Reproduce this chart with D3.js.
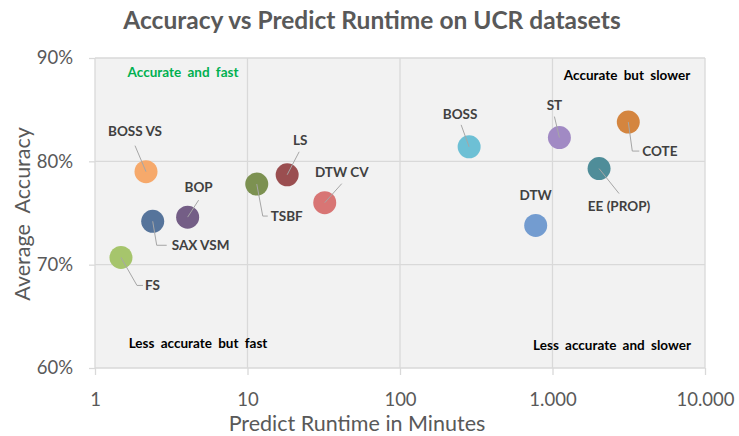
<!DOCTYPE html>
<html lang="en">
<head>
<meta charset="UTF-8">
<title>Accuracy vs Predict Runtime on UCR datasets</title>
<script src="https://d3js.org/d3.v7.min.js"></script>
<style>
  body { margin: 0; background: #ffffff; }
  text { font-family: Lato, "Open Sans", sans-serif; }
</style>
</head>
<body>
<svg id="mainCanvas" width="739" height="436"></svg>
<script>

// data
let methods    = ['BOSS VS', 'BOP', 'SAX VSM', 'FS', 'TSBF', 'LS', 'DTW CV', 'BOSS', 'ST', 'DTW', 'COTE', 'EE (PROP)'];
let runtimes   = [2.16, 4.05, 2.39, 1.48, 11.5, 18.2, 32.1, 284, 1110, 776, 3140, 2020];
let accuracies = [0.790, 0.746, 0.742, 0.707, 0.778, 0.787, 0.760, 0.814, 0.823, 0.738, 0.838, 0.793];
let colours    = ['#f6a96b', '#745e86', '#56749b', '#a6c56c', '#7c9151', '#9a4e50', '#d87574', '#6dc0d5', '#a18ac4', '#739cd0', '#d4853f', '#4f8d99'];
let xTicks = [1, 10, 100, 1000, 10000];
let yTicks = [0.6, 0.7, 0.8, 0.9];
let quadrantTexts = ['Accurate and fast', 'Accurate but slower', 'Less accurate but fast', 'Less accurate and slower'];

// where each label sits relative to its bubble (pixels): text offset, anchor, leader polyline
let labelLayout = {
  'BOSS VS':   {tx: -11, ty: -40, anchor: 'middle', leader: [[-11, -26]]},
  'BOP':       {tx: 11,  ty: -30, anchor: 'middle', leader: [[11, -17]]},
  'SAX VSM':   {tx: 19,  ty: 24,  anchor: 'start',  leader: [[4, 24], [14, 24]]},
  'FS':        {tx: 24,  ty: 28,  anchor: 'start',  leader: [[16, 28], [22, 28]]},
  'TSBF':      {tx: 14,  ty: 32,  anchor: 'start',  leader: [[6, 32], [11, 32]]},
  'LS':        {tx: 13,  ty: -34, anchor: 'middle', leader: [[12, -23]]},
  'DTW CV':    {tx: 17,  ty: -30, anchor: 'middle', leader: [[17, -19]]},
  'BOSS':      {tx: -9,  ty: -33, anchor: 'middle', leader: [[-8, -22]]},
  'ST':        {tx: -5,  ty: -32, anchor: 'middle', leader: [[-5, -21]]},
  'DTW':       {tx: 0,   ty: -30, anchor: 'middle', leader: []},
  'COTE':      {tx: 14,  ty: 29,  anchor: 'start',  leader: [[4, 29], [11, 29]]},
  'EE (PROP)': {tx: 20,  ty: 38,  anchor: 'middle', leader: [[20, 25]]}
};

let plot = {left: 95, right: 705, top: 58, bottom: 368};
let svg = d3.select('#mainCanvas');

let x = d3.scaleLog().domain([1, 10000]).range([plot.left, plot.right]);
let y = d3.scaleLinear().domain([0.6, 0.9]).range([plot.bottom, plot.top]);

let euro = d3.formatLocale({decimal: ',', thousands: '.', grouping: [3], currency: ['', '']});

// plot background
svg.append('rect')
  .attr('x', plot.left).attr('y', plot.top)
  .attr('width', plot.right - plot.left).attr('height', plot.bottom - plot.top)
  .style('fill', '#f2f2f2');

// grid
svg.selectAll('.vGrid').data(xTicks).enter().append('line')
  .attr('x1', d => x(d)).attr('x2', d => x(d))
  .attr('y1', plot.top).attr('y2', plot.bottom)
  .style('stroke', '#d9d9d9').style('stroke-width', 1.3);

svg.selectAll('.hGrid').data(yTicks).enter().append('line')
  .attr('x1', plot.left).attr('x2', plot.right)
  .attr('y1', d => y(d)).attr('y2', d => y(d))
  .style('stroke', '#d9d9d9').style('stroke-width', 1.3);

// axes
let xAxis = svg.append('g')
  .attr('transform', 'translate(0,' + plot.bottom + ')')
  .call(d3.axisBottom(x).tickValues(xTicks).tickSize(7).tickPadding(18).tickFormat(euro.format(',')));

let yAxis = svg.append('g')
  .attr('transform', 'translate(' + plot.left + ',0)')
  .call(d3.axisLeft(y).tickValues(yTicks).tickSize(6).tickPadding(16).tickFormat(d3.format('.0%')));

[xAxis, yAxis].forEach(function(axis) {
  axis.select('.domain').remove();
  axis.selectAll('line').style('stroke', '#d9d9d9').style('stroke-width', 1.3);
  axis.selectAll('text').style('fill', '#595959').style('font-size', '18.5px').style('font-family', 'Lato, sans-serif');
});

// titles
svg.append('text')
  .attr('x', 372).attr('y', 29)
  .attr('text-anchor', 'middle')
  .style('font-size', '24.5px').style('font-weight', 'bold').style('fill', '#595959')
  .text('Accuracy vs Predict Runtime on UCR datasets');

svg.append('text')
  .attr('x', 357).attr('y', 431)
  .attr('text-anchor', 'middle')
  .style('font-size', '21.5px').style('fill', '#595959')
  .text('Predict Runtime in Minutes');

svg.append('text')
  .attr('transform', 'translate(30,214) rotate(-90)')
  .attr('text-anchor', 'middle')
  .style('font-size', '21.5px').style('fill', '#595959').style('word-spacing', '6px')
  .text('Average Accuracy');

// quadrant notes
let quadrantPos = [
  {x: 183, y: 77, colour: '#00b050'},
  {x: 627, y: 80, colour: '#000000'},
  {x: 198, y: 348, colour: '#000000'},
  {x: 612, y: 350, colour: '#000000'}
];
quadrantTexts.forEach(function(t, i) {
  svg.append('text')
    .attr('x', quadrantPos[i].x).attr('y', quadrantPos[i].y)
    .attr('text-anchor', 'middle')
    .style('font-size', '13.5px').style('font-weight', 'bold').style('word-spacing', '3px')
    .style('fill', quadrantPos[i].colour)
    .text(t);
});

let points = methods.map(function(m, i) {
  return {name: m, runtime: runtimes[i], accuracy: accuracies[i], colour: colours[i]};
});

// bubbles
svg.selectAll('.bubble').data(points).enter().append('circle')
  .attr('class', 'bubble')
  .attr('cx', d => x(d.runtime))
  .attr('cy', d => y(d.accuracy))
  .attr('r', 11.5)
  .style('fill', d => d.colour);

// leader lines, drawn over the bubble centres as in the original
points.forEach(function(p) {
  let lay = labelLayout[p.name];
  if (lay.leader.length === 0) return;
  let cx = x(p.runtime), cy = y(p.accuracy);
  let pts = [[cx, cy]].concat(lay.leader.map(o => [cx + o[0], cy + o[1]]));
  svg.append('path')
    .attr('d', d3.line()(pts))
    .style('fill', 'none').style('stroke', '#a6a6a6').style('stroke-width', 1);
});

// labels
svg.selectAll('.label').data(points).enter().append('text')
  .attr('class', 'label')
  .attr('x', d => x(d.runtime) + labelLayout[d.name].tx)
  .attr('y', d => y(d.accuracy) + labelLayout[d.name].ty)
  .attr('dy', '0.35em')
  .attr('text-anchor', d => labelLayout[d.name].anchor)
  .style('font-size', '13.5px').style('font-weight', 'bold').style('fill', '#404040')
  .text(d => d.name);

</script>
</body>
</html>
